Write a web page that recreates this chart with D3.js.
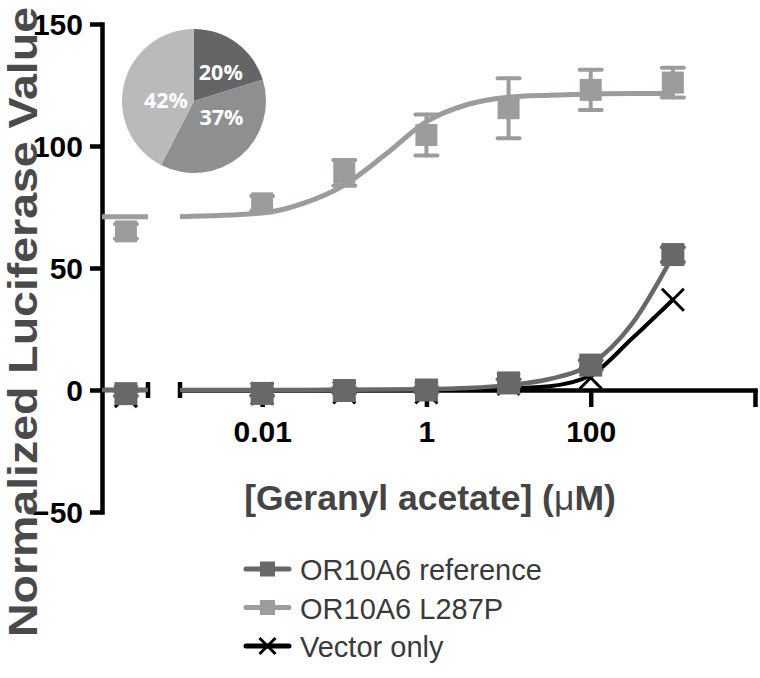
<!DOCTYPE html>
<html>
<head>
<meta charset="utf-8">
<script src="https://d3js.org/d3.v7.min.js"></script>
<style>
    body { margin: 0; background: #fff; }
    svg { display: block; }
</style>
</head>
<body>
<svg width="760" height="678"></svg>

<script>
    // concentrations of geranyl acetate (uM)
    var conc = [0.01, 0.1, 1, 10, 100, 1000];

    // values of the no-odorant control, drawn on the broken-off segment
    var refCtrl = -1.5, l287Ctrl = 65, vecCtrl = -2.5;
    var l287CtrlErr = 3;

    var refMean = [-1.4, -0.2, 0, 2.9, 10.2, 55.5];
    var refErr = [1, 1, 1, 1.5, 2, 3];
    var l287Mean = [76.5, 89, 104.5, 115.5, 123, 126];
    var l287Err = [3, 5.3, 8.4, 12.3, 8.2, 6.1];
    var vecMean = [-1.5, -1, -1, 2.5, 5, 37];

    // fitted curves
    var fitX = [0.001, 0.01, 0.0316, 0.1, 0.316, 1, 3.16, 10, 31.6, 100, 316, 1000];
    var refFit = [0, 0, 0, 0.1, 0.2, 0.3, 0.8, 2, 4.5, 10.5, 27, 55];
    var l287Fit = [71, 72.5, 76.5, 84, 96.5, 110, 117, 120, 120.8, 121.3, 121.5, 121.5];
    var vecFit = [0, 0, 0, 0, 0, 0.1, 0.3, 0.6, 1.5, 6, 21, 37];

    var xTicks = [0.01, 1, 100, 10000];
    var yTicks = [-50, 0, 50, 100, 150];

    var pieVals = [20, 37, 42];
    var pieLabels = ['20%', '37%', '42%'];

    var legendNames = ['OR10A6 reference', 'OR10A6 L287P', 'Vector only'];

    var colRef = '#67686a', colL287 = '#9b9c9e', colVec = '#000';
    var pieCols = ['#646567', '#8e8f91', '#b9babc'];
    // label placement inside the slices: [angle nudge (deg), radius]
    var pieLabelPos = [[7, 39], [-19, 32], [-12, 28]];

    var svg = d3.select('svg');

    var x = d3.scaleLog().domain([0.001, 10000]).range([180, 755]);
    var xb = d3.scaleLinear().domain([0, 1]).range([102, 148]); // break segment
    var y = d3.scaleLinear().domain([-50, 150]).range([512, 24]);
    var ctrlPos = 0.52;

    // ---- axes
    var yAxis = d3.axisLeft(y).tickValues(yTicks).tickSize(12).tickSizeOuter(0).tickPadding(7);
    var gy = svg.append('g').attr('transform', 'translate(102,0)').call(yAxis);

    var xAxis = d3.axisBottom(x).tickValues(xTicks).tickSize(17).tickSizeOuter(0).tickPadding(14)
        .tickFormat(function(d) { return d === 10000 ? '' : d; });
    var gx = svg.append('g').attr('transform', 'translate(0,' + y(0) + ')').call(xAxis);

    [gx, gy].forEach(function(g) {
        g.select('.domain').attr('stroke', '#000').attr('stroke-width', 4.5).attr('stroke-linecap', 'square');
        g.selectAll('.tick line').attr('stroke', '#000').attr('stroke-width', 4.5);
        g.selectAll('.tick text')
            .attr('fill', '#000')
            .style('font-family', '"Liberation Sans", Arial, sans-serif')
            .style('font-weight', 'bold')
            .style('font-size', '30px');
    });
    gy.selectAll('.tick text').attr('dy', '0.36em');

    // broken first segment of the x axis
    svg.append('line')
        .attr('x1', xb(0)).attr('x2', xb(1))
        .attr('y1', y(0)).attr('y2', y(0))
        .attr('stroke', '#000').attr('stroke-width', 4.5);
    [xb(1), x(0.001)].forEach(function(px) {
        svg.append('line')
            .attr('x1', px).attr('x2', px)
            .attr('y1', y(0) - 8).attr('y2', y(0) + 8)
            .attr('stroke', '#000').attr('stroke-width', 4.5);
    });

    // ---- curves
    var line = d3.line()
        .x(function(d) { return x(d[0]); })
        .y(function(d) { return y(d[1]); })
        .curve(d3.curveMonotoneX);

    function drawFit(vals, col, w) {
        svg.append('path')
            .datum(fitX.map(function(c, i) { return [c, vals[i]]; }))
            .attr('d', line)
            .attr('fill', 'none')
            .attr('stroke', col)
            .attr('stroke-width', w);
        // flat part of the fit carried over the break segment
        svg.append('line')
            .attr('x1', xb(0)).attr('x2', xb(1))
            .attr('y1', y(vals[0])).attr('y2', y(vals[0]))
            .attr('stroke', col).attr('stroke-width', w);
    }

    function drawCross(g, cx, cy, s, w) {
        g.append('path')
            .attr('d', 'M' + (cx - s) + ',' + (cy - s) + 'L' + (cx + s) + ',' + (cy + s) +
                'M' + (cx - s) + ',' + (cy + s) + 'L' + (cx + s) + ',' + (cy - s))
            .attr('stroke', colVec).attr('stroke-width', w).attr('fill', 'none');
    }

    function drawErr(cx, m, e, col) {
        var g = svg.append('g').attr('stroke', col).attr('stroke-width', 4).attr('stroke-linecap', 'round');
        g.append('line').attr('x1', cx).attr('x2', cx).attr('y1', y(m - e)).attr('y2', y(m + e));
        [m - e, m + e].forEach(function(v) {
            g.append('line').attr('x1', cx - 11).attr('x2', cx + 11).attr('y1', y(v)).attr('y2', y(v));
        });
    }

    function drawSquares(cxs, vals, col, size) {
        svg.selectAll(null)
            .data(vals)
            .enter()
            .append('rect')
            .attr('x', function(d, i) { return cxs[i] - size / 2; })
            .attr('y', function(d) { return y(d) - size / 2; })
            .attr('width', size)
            .attr('height', size)
            .attr('fill', col);
    }

    var cxs = [xb(ctrlPos)].concat(conc.map(function(c) { return x(c); }));

    // vector only (black)
    drawFit(vecFit, colVec, 4);
    [vecCtrl].concat(vecMean).forEach(function(v, i) {
        drawCross(svg, cxs[i], y(v), 11, 3);
    });

    // reference (dark grey)
    drawFit(refFit, colRef, 4.5);
    [refCtrl].concat(refMean).forEach(function(v, i) {
        drawErr(cxs[i], v, [1].concat(refErr)[i], colRef);
    });
    drawSquares(cxs, [refCtrl].concat(refMean), colRef, 23);

    // L287P (light grey)
    drawFit(l287Fit, colL287, 5);
    [l287Ctrl].concat(l287Mean).forEach(function(v, i) {
        drawErr(cxs[i], v, [l287CtrlErr].concat(l287Err)[i], colL287);
    });
    drawSquares(cxs, [l287Ctrl].concat(l287Mean), colL287, 22);

    // ---- axis titles
    svg.append('text')
        .attr('transform', 'rotate(-90)')
        .attr('x', -322).attr('y', 37)
        .attr('text-anchor', 'middle')
        .attr('fill', '#4a4a4c')
        .attr('textLength', 630)
        .attr('lengthAdjust', 'spacingAndGlyphs')
        .style('font-family', '"Liberation Sans", Arial, sans-serif')
        .style('font-weight', 'bold')
        .style('font-size', '40px')
        .text('Normalized Luciferase Value');

    var xt = svg.append('text')
        .attr('x', 430).attr('y', 510)
        .attr('text-anchor', 'middle')
        .attr('fill', '#444446')
        .style('font-family', '"Liberation Sans", Arial, sans-serif')
        .style('font-weight', 'bold')
        .style('font-size', '35.5px');
    xt.append('tspan').text('[Geranyl acetate] (');
    xt.append('tspan').style('font-weight', 'normal').text('\u03bc');
    xt.append('tspan').text('M)');

    // ---- inset pie
    var pie = d3.pie().sort(null)(pieVals);
    var arc = d3.arc().innerRadius(0).outerRadius(72);
    var pg = svg.append('g').attr('transform', 'translate(194,101)');
    pg.selectAll('path')
        .data(pie)
        .enter()
        .append('path')
        .attr('d', arc)
        .attr('fill', function(d, i) { return pieCols[i]; });
    pg.selectAll('text')
        .data(pie)
        .enter()
        .append('text')
        .attr('transform', function(d, i) {
            var a = (d.startAngle + d.endAngle) / 2 + pieLabelPos[i][0] * Math.PI / 180;
            var r = pieLabelPos[i][1];
            return 'translate(' + (r * Math.sin(a)) + ',' + (-r * Math.cos(a)) + ')';
        })
        .attr('text-anchor', 'middle')
        .attr('dy', '0.36em')
        .attr('fill', '#fff')
        .style('font-family', '"Open Sans", sans-serif')
        .style('font-weight', 'bold')
        .style('font-size', '21.5px')
        .text(function(d, i) { return pieLabels[i]; });

    // ---- legend
    var legCols = [colRef, colL287, colVec];
    var leg = svg.append('g');
    legendNames.forEach(function(name, i) {
        var by = 580 + i * 38.5;
        var cy = by - 11;
        var g = leg.append('g');
        g.append('line')
            .attr('x1', 246).attr('x2', 289).attr('y1', cy).attr('y2', cy)
            .attr('stroke', legCols[i]).attr('stroke-width', 5).attr('stroke-linecap', 'round');
        if (i < 2) {
            g.append('rect').attr('x', 260).attr('y', cy - 7.5).attr('width', 15).attr('height', 15)
                .attr('fill', legCols[i]);
        } else {
            drawCross(g, 267.5, cy, 8, 3);
        }
        g.append('text')
            .attr('x', 300).attr('y', by)
            .attr('fill', '#3a3a3c')
            .style('font-family', '"Liberation Sans", Arial, sans-serif')
            .style('font-size', '29px')
            .text(name);
    });
</script>
</body>
</html>
